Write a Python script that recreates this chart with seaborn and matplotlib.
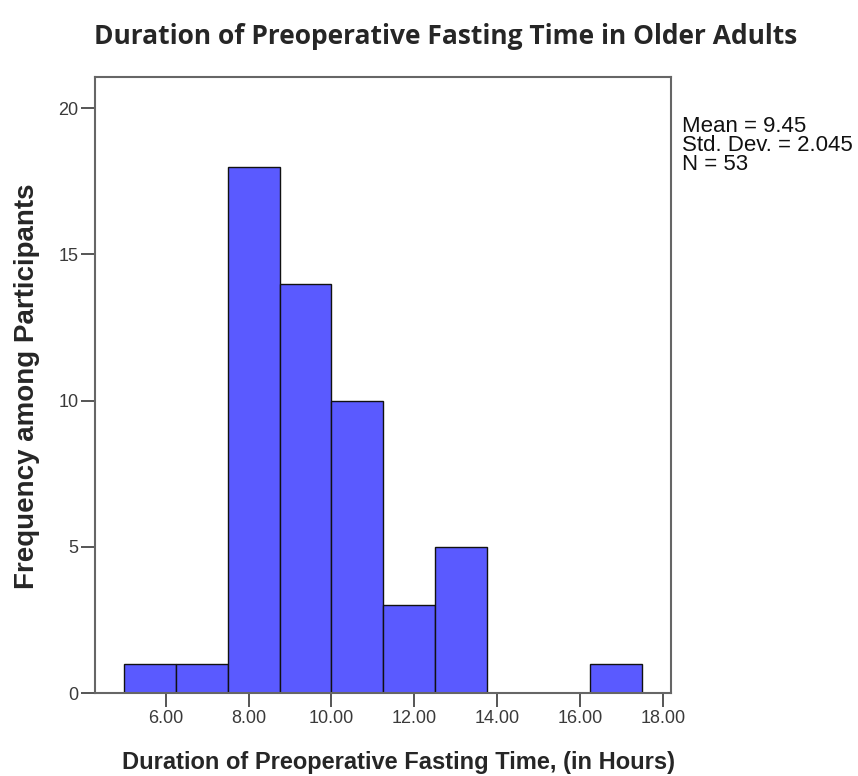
import numpy as np
import pandas as pd
import seaborn as sns
import matplotlib.pyplot as plt

# Data
bin_edges = [5.0, 6.25, 7.5, 8.75, 10.0, 11.25, 12.5, 13.75, 15.0, 16.25, 17.5]
counts = [1, 1, 18, 14, 10, 3, 5, 0, 0, 1]
x_ticks = [6, 8, 10, 12, 14, 16, 18]
y_ticks = [0, 5, 10, 15, 20]
stats_lines = ["Mean = 9.45", "Std. Dev. = 2.045", "N = 53"]

centers = [(a + b) / 2 for a, b in zip(bin_edges[:-1], bin_edges[1:])]
df = pd.DataFrame({'hours': centers, 'n': counts})

sns.set_style('white')
plt.rcParams['font.family'] = ['Liberation Sans', 'DejaVu Sans']

W, H = 858, 776
fig = plt.figure(figsize=(W / 100, H / 100), dpi=100)
ax = fig.add_axes([95/W, 1 - 693/H, (671 - 95)/W, (693 - 77)/H])

sns.histplot(data=df, x='hours', weights='n', bins=bin_edges, ax=ax,
             color='#5a5aff', edgecolor='#111111', linewidth=1, alpha=1)

ax.set_xlim(4.293, 18.2)
ax.set_ylim(0, 21.06)
ax.set_xticks(x_ticks)
ax.set_xticklabels([f"{t:.2f}" for t in x_ticks])
ax.set_yticks(y_ticks)
ax.tick_params(axis='both', direction='out', length=10, width=1.4,
               color='#555555', labelsize=13, labelcolor='#3a3a3a',
               pad=2, bottom=True, left=True)
for s in ax.spines.values():
    s.set_color('#666666')
    s.set_linewidth(1.5)

ax.set_xlabel('Duration of Preoperative Fasting Time, (in Hours)',
              fontsize=17, fontweight='bold', va='center')
ax.xaxis.set_label_coords(399/W, 1 - 762/H, transform=fig.transFigure)
ax.set_ylabel('Frequency among Participants', fontsize=20,
              fontweight='bold', va='center')
ax.yaxis.set_label_coords(27/W, 1 - 386/H, transform=fig.transFigure)

fig.text(446/W, 1 - 36/H, 'Duration of Preoperative Fasting Time in Older Adults',
         ha='center', va='center', fontsize=19, fontweight='bold',
         family=['Open Sans', 'DejaVu Sans'])

fig.text(682/W, 1 - 116/H, "\n".join(stats_lines), ha='left', va='top',
         fontsize=16, linespacing=0.88, color='#111111')

fig.savefig('out.png', dpi=100)
